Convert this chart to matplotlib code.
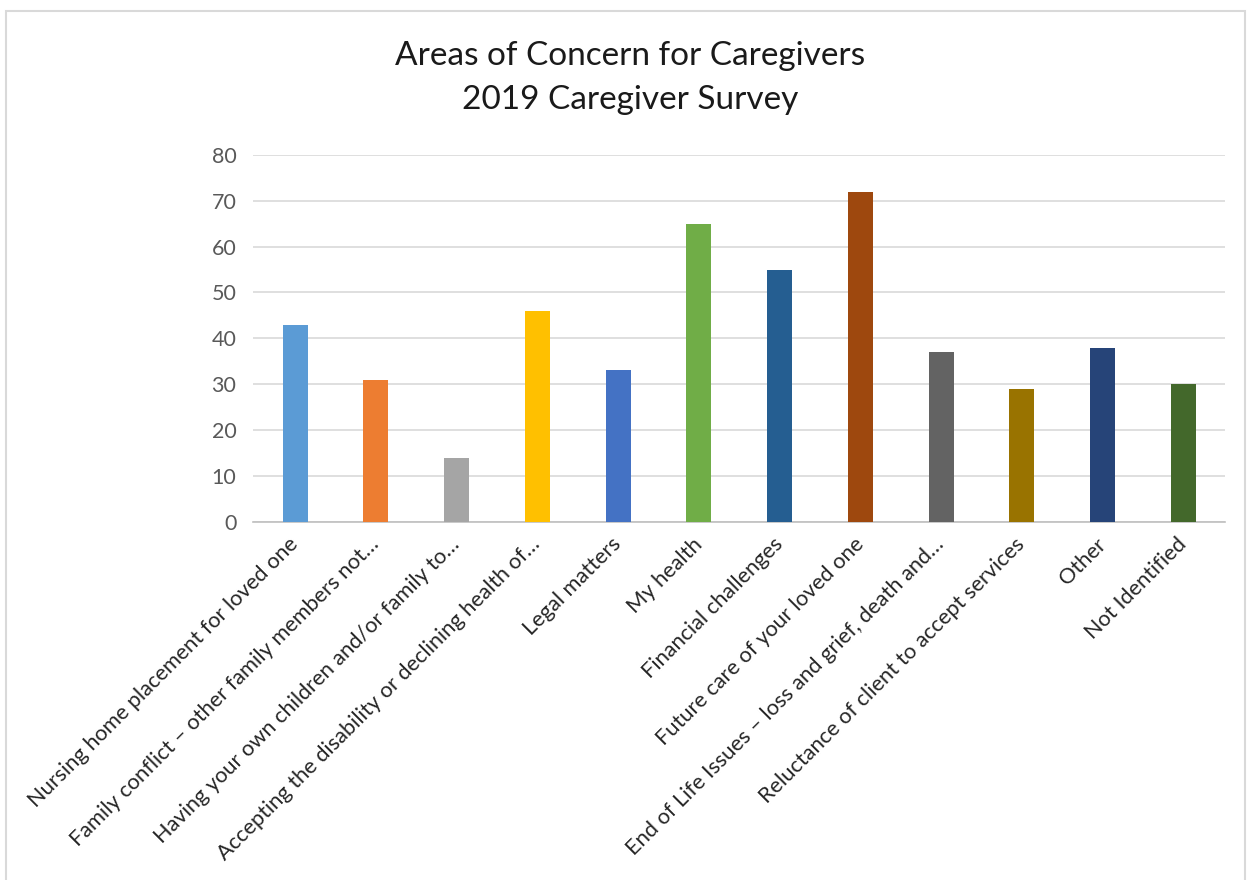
import matplotlib.pyplot as plt
from matplotlib.patches import Rectangle

# Survey data
categories = [
    "Nursing home placement for loved one",
    "Family conflict \u2013 other family members not\u2026",
    "Having your own children and/or family to\u2026",
    "Accepting the disability or declining health of\u2026",
    "Legal matters",
    "My health",
    "Financial challenges",
    "Future care of your loved one",
    "End of Life Issues \u2013 loss and grief, death and\u2026",
    "Reluctance of client to accept services",
    "Other",
    "Not Identified",
]
counts = [43, 31, 14, 46, 33, 65, 55, 72, 37, 29, 38, 30]
bar_colors = ["#5B9BD5", "#ED7D31", "#A5A5A5", "#FFC000", "#4472C4", "#70AD47",
              "#255E91", "#9E480E", "#636363", "#997300", "#264478", "#43682B"]
y_ticks = [0, 10, 20, 30, 40, 50, 60, 70, 80]

plt.rcParams['font.family'] = ['Lato', 'DejaVu Sans']

fig = plt.figure(figsize=(12.53, 8.8), dpi=100)
ax = fig.add_axes([0.202, 0.407, 0.776, 0.417])

# chart area outline
fig.patches.append(Rectangle((0.005, -0.05), 0.989, 1.038, transform=fig.transFigure,
                             fill=False, edgecolor="#d9d9d9", linewidth=1.5))

x = range(len(categories))
ax.bar(x, counts, width=0.31, color=bar_colors, zorder=3)

ax.set_ylim(0, 80)
ax.set_xlim(-0.52, len(categories) - 0.48)
ax.set_yticks(y_ticks)
ax.yaxis.grid(True, color="#d9d9d9", linewidth=1.2, zorder=0)
ax.tick_params(axis='both', length=0)
ax.tick_params(axis='y', labelsize=15.5, labelcolor="#595959", pad=12)

for side in ['top', 'right', 'left']:
    ax.spines[side].set_visible(False)
ax.spines['bottom'].set_color("#bfbfbf")
ax.spines['bottom'].set_linewidth(1.2)

ax.set_xticks(list(x))
ax.set_xticklabels(categories, rotation=45, ha='right', va='center',
                   rotation_mode='anchor', fontsize=15.7, color="#262626")
ax.tick_params(axis='x', pad=14)

fig.text(0.503, 0.936, "Areas of Concern for Caregivers", ha='center', va='center',
         fontsize=24, color="#1a1a1a")
fig.text(0.503, 0.886, "2019 Caregiver Survey", ha='center', va='center',
         fontsize=24, color="#1a1a1a")

fig.savefig("out.png", dpi=100)
